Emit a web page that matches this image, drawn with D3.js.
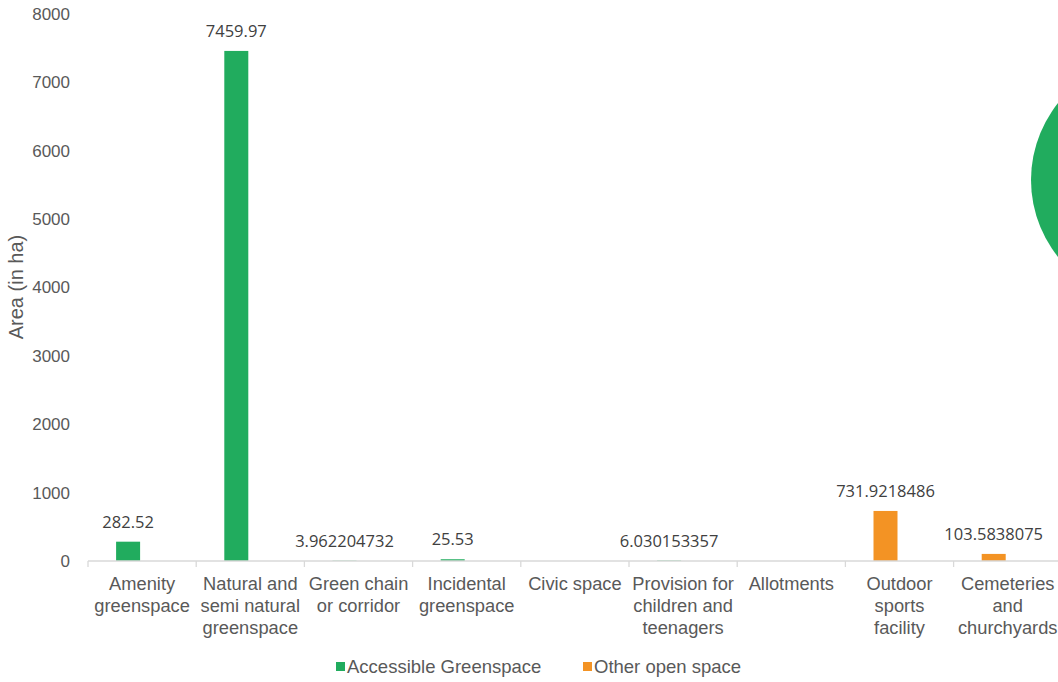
<!DOCTYPE html>
<html>
<head>
<meta charset="utf-8">
<script src="https://cdn.jsdelivr.net/npm/d3@7"></script>
<style>
  html, body { margin: 0; padding: 0; background: #fff; }
  svg { display: block; }
</style>
</head>
<body>
<div id="chart"></div>
<script>
// values
const categories = [
    "Amenity greenspace",
    "Natural and semi natural greenspace",
    "Green chain or corridor",
    "Incidental greenspace",
    "Civic space",
    "Provision for children and teenagers",
    "Allotments",
    "Outdoor sports facility",
    "Cemeteries and churchyards"
];
const areaValues = [282.52, 7459.97, 3.962204732, 25.53, null, 6.030153357, null, 731.9218486, 103.5838075];
const valueLabels = ["282.52", "7459.97", "3.962204732", "25.53", "", "6.030153357", "", "731.9218486", "103.5838075"];
const seriesNames = ["Accessible Greenspace", "Other open space"];
const seriesOfCategory = [0, 0, 0, 0, 0, 0, 1, 1, 1];
const yTicks = [0, 1000, 2000, 3000, 4000, 5000, 6000, 7000, 8000];

document.addEventListener('DOMContentLoaded', function() {
    const width = 1058, height = 682;
    const colors = ["#21AC5E", "#F39324"];
    const font = "'Liberation Sans', Arial, sans-serif";

    const svg = d3.select("#chart").append("svg")
        .attr("width", width)
        .attr("height", height);

    const x = d3.scaleBand()
        .domain(categories)
        .range([88, 88 + 108.2 * categories.length]);

    const y = d3.scaleLinear()
        .domain([0, 8000])
        .range([561, 14]);

    // decorative circle peeking in at the right edge
    svg.append("circle")
        .attr("cx", 1154)
        .attr("cy", 180)
        .attr("r", 123)
        .attr("fill", colors[0]);

    // y axis labels
    const yAxis = svg.append("g")
        .attr("transform", "translate(70,0)")
        .call(d3.axisLeft(y).tickValues(yTicks).tickSize(0).tickPadding(0).tickFormat(d3.format("d")));
    yAxis.select(".domain").remove();
    yAxis.selectAll("text")
        .attr("font-family", font)
        .attr("font-size", 17)
        .attr("fill", "#595959");

    svg.append("text")
        .attr("transform", "translate(23,287) rotate(-90)")
        .attr("text-anchor", "middle")
        .attr("font-family", font)
        .attr("font-size", 20)
        .attr("fill", "#595959")
        .text("Area (in ha)");

    // bars
    const barW = 24, barOff = x.bandwidth() / 2 - 26;
    const rows = categories.map((c, i) => ({ cat: c, v: areaValues[i], label: valueLabels[i], s: seriesOfCategory[i] }));

    svg.selectAll("rect.bar")
        .data(rows.filter(d => d.v != null))
        .enter()
        .append("rect")
        .attr("class", "bar")
        .attr("x", d => x(d.cat) + barOff)
        .attr("width", barW)
        .attr("y", d => y(d.v))
        .attr("height", d => y(0) - y(d.v))
        .attr("fill", d => colors[d.s]);

    svg.selectAll("text.val")
        .data(rows.filter(d => d.v != null))
        .enter()
        .append("text")
        .attr("class", "val")
        .attr("x", d => x(d.cat) + barOff + barW / 2)
        .attr("y", d => y(d.v) - 14)
        .attr("text-anchor", "middle")
        .attr("font-family", "'Open Sans', sans-serif")
        .attr("font-size", 16.5)
        .attr("fill", "#404040")
        .text(d => d.label);

    // x axis
    const xAxis = svg.append("g")
        .attr("transform", `translate(0,${y(0)})`);
    xAxis.append("line")
        .attr("x1", 88).attr("x2", width)
        .attr("stroke", "#d9d9d9").attr("stroke-width", 1.3);
    xAxis.selectAll("line.tick")
        .data(categories.concat([null]))
        .enter()
        .append("line")
        .attr("class", "tick")
        .attr("x1", (d, i) => i < categories.length ? x(d) : x.range()[1])
        .attr("x2", (d, i) => i < categories.length ? x(d) : x.range()[1])
        .attr("y1", 0).attr("y2", 6)
        .attr("stroke", "#d9d9d9").attr("stroke-width", 1.3);

    const catLabels = xAxis.selectAll("text.cat")
        .data(categories)
        .enter()
        .append("text")
        .attr("class", "cat")
        .attr("text-anchor", "middle")
        .attr("font-family", font)
        .attr("font-size", 18.3)
        .attr("fill", "#595959")
        .attr("transform", d => `translate(${x(d) + x.bandwidth() / 2},29)`);

    // wrap category names the way the spreadsheet does
    catLabels.each(function(d) {
        const t = d3.select(this);
        const words = d.split(" ");
        let line = [];
        let tspan = t.append("tspan").attr("x", 0).attr("dy", 0);
        words.forEach(w => {
            line.push(w);
            tspan.text(line.join(" "));
            if (tspan.node().getComputedTextLength() > 104 && line.length > 1) {
                line.pop();
                tspan.text(line.join(" "));
                line = [w];
                tspan = t.append("tspan").attr("x", 0).attr("dy", 22).text(w);
            }
        });
    });

    // legend
    const legendItems = [
        { name: seriesNames[0], x: 336, color: colors[0] },
        { name: seriesNames[1], x: 583, color: colors[1] }
    ];
    const legend = svg.selectAll("g.legend")
        .data(legendItems)
        .enter()
        .append("g")
        .attr("class", "legend")
        .attr("transform", d => `translate(${d.x},662)`);
    legend.append("rect")
        .attr("width", 9).attr("height", 9)
        .attr("fill", d => d.color);
    legend.append("text")
        .attr("x", 11)
        .attr("y", 11)
        .attr("font-family", font)
        .attr("font-size", 18.5)
        .attr("fill", "#595959")
        .text(d => d.name);
});
</script>
</body>
</html>
